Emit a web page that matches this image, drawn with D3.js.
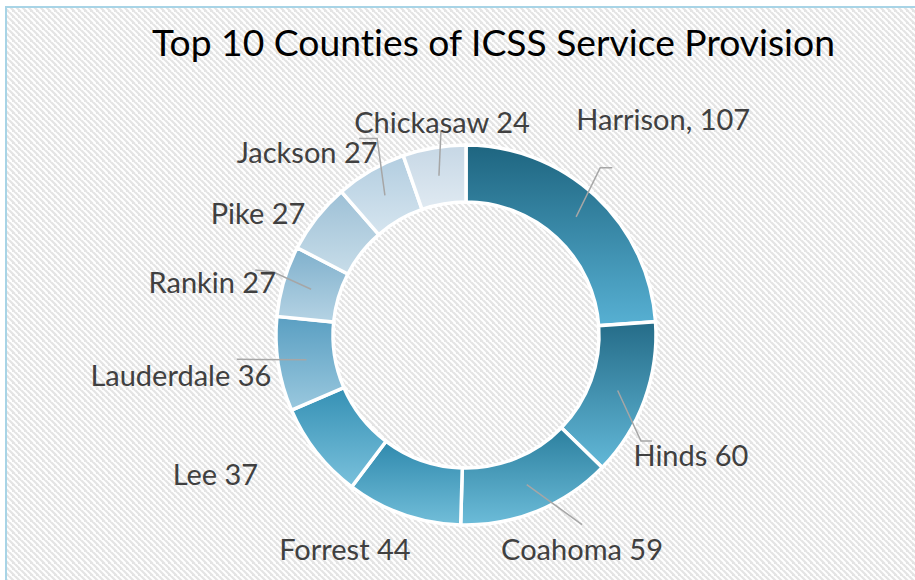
<!DOCTYPE html>
<html>
<head>
<meta charset="utf-8">
<script src="https://cdn.jsdelivr.net/npm/d3@7"></script>
<style>
  body { margin: 0; background: #fff; }
  svg { display: block; }
  text { font-variant-ligatures: none; }
</style>
</head>
<body>
<script>
var counties = ["Harrison", "Hinds", "Coahoma", "Forrest", "Lee", "Lauderdale", "Rankin", "Pike", "Jackson", "Chickasaw"];
var services = [107, 60, 59, 44, 37, 36, 27, 27, 27, 24];
var labelText = ["Harrison, 107", "Hinds 60", "Coahoma 59", "Forrest 44", "Lee 37", "Lauderdale 36", "Rankin 27", "Pike 27", "Jackson 27", "Chickasaw 24"];
var topColors = ["#1e6580", "#256c88", "#2b7f9e", "#2f89ad", "#3590b4", "#5a9fc2", "#7fb0cc", "#9dc0d6", "#b2cde0", "#c6d7e5"];
var bottomColors = ["#57b0d3", "#62b8d8", "#6cbcd9", "#72bed9", "#7ac1dc", "#9ac8de", "#b5d3e4", "#c8dde9", "#d6e5ef", "#e0eaf2"];

var w = 915, h = 580;
var cx = 466, cy = 335;
var outerR = 190, innerR = 133;

// label placement: [angle nudge in degrees, distance from centre]
var labelLayout = [[-0.5, 292], [8, 255], [-6.3, 244], [10.2, 246], [9, 287], [0.8, 288], [-4.9, 259], [-7.8, 241], [-10.9, 242], [3.2, 214]];
// leader line: elbow and end, relative to label centre (null = no line)
var leaders = [[[-63, 48], [-51, 48]], [[-50, -14], [-39, -14]], [[0, -25], [0, -25]], null, null,
               [[56, -16], [56, -16]], [[61, -11], [43, -13]], null, [[70, -14], [52, -14]], [[-1, 8], [-1, 8]]];

var svg = d3.select("body").append("svg")
    .attr("width", w)
    .attr("height", h);

var defs = svg.append("defs");
var pat = defs.append("pattern")
    .attr("id", "hatch")
    .attr("patternUnits", "userSpaceOnUse")
    .attr("width", 6)
    .attr("height", 6);
pat.append("rect").attr("width", 6).attr("height", 6).attr("fill", "#fff");
pat.append("path")
    .attr("d", "M-3,0 L3,6 M0,-3 L9,6 M3,0 L9,6 M-3,3 L3,9")
    .attr("stroke", "#e4e4e4")
    .attr("stroke-width", 2.2);

svg.append("rect")
    .attr("x", 6).attr("y", 7)
    .attr("width", w).attr("height", h)
    .attr("fill", "url(#hatch)")
    .attr("stroke", "#a8d4e6")
    .attr("stroke-width", 2);

var grads = defs.selectAll("linearGradient")
    .data(counties)
    .enter()
    .append("linearGradient")
    .attr("id", function(d, i){ return "g" + i; })
    .attr("x1", 0).attr("y1", 0).attr("x2", 0).attr("y2", 1);
grads.append("stop").attr("offset", "0%").attr("stop-color", function(d, i){ return topColors[i]; });
grads.append("stop").attr("offset", "100%").attr("stop-color", function(d, i){ return bottomColors[i]; });

var pie = d3.pie().sort(null).value(function(d){ return d; });
var arcs = pie(services);
var arc = d3.arc().innerRadius(innerR).outerRadius(outerR);

var g = svg.append("g").attr("transform", "translate(" + cx + "," + cy + ")");

g.selectAll("path.slice")
    .data(arcs)
    .enter()
    .append("path")
    .attr("class", "slice")
    .attr("d", arc)
    .attr("fill", function(d, i){ return "url(#g" + i + ")"; })
    .attr("stroke", "#fff")
    .attr("stroke-width", 3.5)
    .attr("stroke-linejoin", "miter");

function labelCenter(d, i){
    var a = (d.startAngle + d.endAngle) / 2 + labelLayout[i][0] * Math.PI / 180;
    var r = labelLayout[i][1];
    return [r * Math.sin(a), -r * Math.cos(a)];
}

g.selectAll("polyline.leader")
    .data(arcs.filter(function(d, i){ return leaders[i]; }))
    .enter()
    .append("polyline")
    .attr("class", "leader")
    .attr("points", function(d){
        var i = d.index;
        var c = arc.centroid(d);
        var lc = labelCenter(d, i);
        var e1 = [lc[0] + leaders[i][0][0], lc[1] + leaders[i][0][1]];
        var e2 = [lc[0] + leaders[i][1][0], lc[1] + leaders[i][1][1]];
        return [c, e1, e2].map(function(p){ return p.join(","); }).join(" ");
    })
    .attr("fill", "none")
    .attr("stroke", "#a6a6a6")
    .attr("stroke-width", 1.5);

g.selectAll("text.lbl")
    .data(arcs)
    .enter()
    .append("text")
    .attr("class", "lbl")
    .attr("x", function(d, i){ return labelCenter(d, i)[0]; })
    .attr("y", function(d, i){ return labelCenter(d, i)[1]; })
    .attr("dy", "0.36em")
    .attr("text-anchor", "middle")
    .attr("font-family", "Lato, sans-serif")
    .attr("font-size", 29)
    .attr("fill", "#404040")
    .text(function(d, i){ return labelText[i]; });

var title = svg.append("text")
    .attr("x", 493.5)
    .attr("y", 56)
    .attr("text-anchor", "middle")
    .attr("font-family", "Lato, sans-serif")
    .attr("font-size", 40)
    .attr("fill", "#000")
    .text("Top 10 Counties of ICSS Service Provision");
var tw = title.node().getComputedTextLength();
title.attr("font-size", 40 * 683 / tw);
</script>
</body>
</html>
